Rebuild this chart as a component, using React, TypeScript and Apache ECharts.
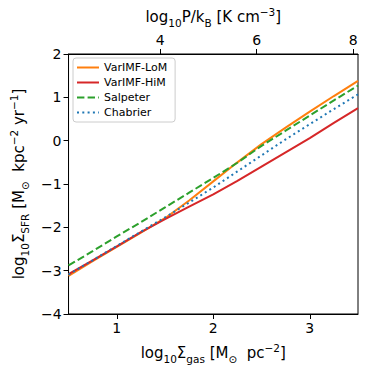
import React, { useEffect, useRef } from "react";
import * as echarts from "echarts";

const gas = [0.5, 0.75, 1.0, 1.25, 1.5, 1.75, 2.0, 2.25, 2.5, 2.75, 3.0, 3.25, 3.5];
const varImfLoM = [-3.12, -2.78, -2.45, -2.12, -1.79, -1.38, -0.94, -0.5, -0.08, 0.3, 0.67, 1.03, 1.38];
const varImfHiM = [-3.08, -2.76, -2.44, -2.11, -1.81, -1.52, -1.24, -0.93, -0.6, -0.27, 0.06, 0.41, 0.75];
const salpeter = [-2.88, -2.55, -2.21, -1.88, -1.54, -1.2, -0.86, -0.51, -0.12, 0.23, 0.58, 0.93, 1.27];
const chabrier = [-3.09, -2.76, -2.43, -2.1, -1.77, -1.43, -1.08, -0.71, -0.34, 0.03, 0.38, 0.73, 1.07];

const bottomTicks = [1, 2, 3];
const topTicks = [4, 6, 8];

const FONT = "DejaVu Sans";

const rich = {
  n: { fontSize: 15, fontFamily: FONT, color: "#000", lineHeight: 22 },
  s: { fontSize: 10.5, fontFamily: FONT, color: "#000", lineHeight: 11, verticalAlign: "bottom" as const },
  p: { fontSize: 10.5, fontFamily: FONT, color: "#000", lineHeight: 11, verticalAlign: "top" as const },
};

const fmt = (v: number) => String(v).replace("-", "\u2212");

export default function App() {
  const ref = useRef<HTMLDivElement>(null);
  useEffect(() => {
    const chart = echarts.init(ref.current!, null, { renderer: "svg" });
    const mk = (name: string, data: number[], color: string, type: any) => ({
      name,
      type: "line",
      data: gas.map((g, i) => [g, data[i]]),
      symbol: "none",
      lineStyle: { color, width: 2, type },
      itemStyle: { color },
      xAxisIndex: 0,
      yAxisIndex: 0,
    });
    chart.setOption({
      animation: false,
      grid: {
        left: 67,
        right: 16,
        top: 54,
        bottom: 60,
        show: true,
        borderColor: "#000",
        borderWidth: 1,
        backgroundColor: "transparent",
      },
      legend: {
        orient: "vertical",
        left: 73,
        top: 58,
        itemWidth: 22,
        itemHeight: 10,
        itemGap: 4,
        padding: [4, 8, 4, 3],
        borderColor: "#ccc",
        borderWidth: 1,
        borderRadius: 3,
        backgroundColor: "#fff",
        itemStyle: { opacity: 0 },
        textStyle: { fontSize: 11, fontFamily: FONT, color: "#000" },
        data: ["VarIMF-LoM", "VarIMF-HiM", "Salpeter", "Chabrier"],
      },
      xAxis: [
        {
          type: "value",
          position: "bottom",
          min: 0.5,
          max: 3.5,
          axisLine: { show: true, onZero: false, lineStyle: { color: "#000", width: 1 } },
          axisTick: { show: true, length: 5, customValues: bottomTicks, lineStyle: { color: "#000" } },
          axisLabel: {
            customValues: bottomTicks,
            fontSize: 14,
            fontFamily: FONT,
            color: "#000",
            margin: 7,
            formatter: fmt,
          },
          splitLine: { show: false },
          name: "{n|log}{s|10}{n|Σ}{s|gas}{n| [M}{s|⊙}{n|  pc}{p|−2}{n|]}",
          nameLocation: "middle",
          nameGap: 28,
          nameTextStyle: { rich },
        },
        {
          type: "value",
          position: "top",
          min: 2.1,
          max: 8.1,
          axisLine: { show: true, onZero: false, lineStyle: { color: "#000", width: 1 } },
          axisTick: { show: true, length: 5, customValues: topTicks, lineStyle: { color: "#000" } },
          axisLabel: {
            customValues: topTicks,
            fontSize: 14,
            fontFamily: FONT,
            color: "#000",
            margin: 7,
            formatter: fmt,
          },
          splitLine: { show: false },
          name: "{n|log}{s|10}{n|P/k}{s|B}{n| [K cm}{p|−3}{n|]}",
          nameLocation: "middle",
          nameGap: 22,
          nameTextStyle: { rich },
        },
      ],
      yAxis: {
        type: "value",
        min: -4,
        max: 2,
        interval: 1,
        axisLine: { show: true, onZero: false, lineStyle: { color: "#000", width: 1 } },
        axisTick: { show: true, length: 5, lineStyle: { color: "#000" } },
        axisLabel: { fontSize: 14, fontFamily: FONT, color: "#000", margin: 7, formatter: fmt },
        splitLine: { show: false },
        name: "{n|log}{s|10}{n|Σ}{s|SFR}{n| [M}{s|⊙}{n|  kpc}{p|−2}{n| yr}{p|−1}{n|]}",
        nameLocation: "middle",
        nameGap: 33,
        nameTextStyle: { rich },
      },
      series: [
        mk("VarIMF-LoM", varImfLoM, "#ff7f0e", "solid"),
        mk("VarIMF-HiM", varImfHiM, "#d62728", "solid"),
        mk("Salpeter", salpeter, "#2ca02c", [7.4, 3.2]),
        mk("Chabrier", chabrier, "#1f77b4", [2, 3.3]),
      ],
    });
    return () => chart.dispose();
  }, []);
  return <div ref={ref} style={{ width: 374, height: 374, position: "absolute", left: 0, top: 0 }} />;
}
